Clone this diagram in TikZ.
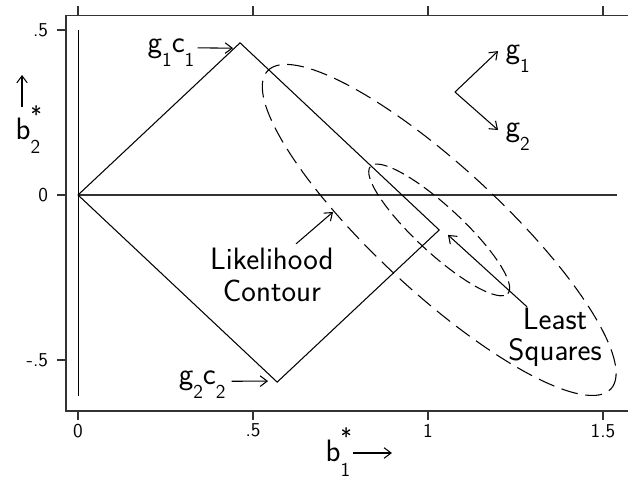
\documentclass[tikz,border=0pt]{standalone}
\usepackage{tikz}
\usetikzlibrary{arrows.meta}
\renewcommand{\familydefault}{\sfdefault}

\newcommand{\lowsub}[1]{\raisebox{-10pt}{\fontsize{14}{14}\selectfont #1}}
\newcommand{\starsub}[1]{\rlap{\raisebox{12pt}{\fontsize{17}{17}\selectfont *}}\lowsub{#1}}

\begin{document}
\begin{tikzpicture}[x=8.75cm, y=8.25cm, line width=0.75pt,
    >={Straight Barb[length=5pt,width=7.5pt]},
    axisline/.style={draw=black!80, line width=1.1pt},
    ticklab/.style={font=\fontsize{14}{14}\selectfont, inner sep=1pt},
    lab/.style={font=\fontsize{22}{23}\selectfont, inner sep=0pt, align=center},
    outerell/.style={dash pattern=on 12pt off 5.5pt},
    innerell/.style={dash pattern=on 9pt off 4pt}
  ]
  \useasboundingbox (-0.2229,0.5909) rectangle (1.5714,-0.8606);

  % frame and ticks
  \draw[axisline] (1.5714,0.5433) -- (-0.0351,0.5433) -- (-0.0351,-0.6545) -- (1.5714,-0.6545);
  \foreach \x/\t in {0/0, 0.5/.5, 1/1, 1.5/1.5} {
    \draw[axisline] (\x,0.5433) -- (\x,0.5733);
    \draw[axisline] (\x,-0.6545) -- (\x,-0.6818);
    \node[ticklab, anchor=north] (xt\t) at (\x,-0.688) {\t};
  }
  \foreach \y/\t in {0.5/.5, 0/0, -0.5/-.5} {
    \draw[axisline] (-0.0351,\y) -- (-0.06,\y);
    \node[ticklab, anchor=east] (yt\t) at (-0.08,\y) {\t};
  }

  % zero lines
  \coordinate (O) at (0,0);
  \draw[axisline] (O) -- (1.54,0);
  \draw[line width=0.55pt] (0,0.5) -- (0,-0.609);

  % constraint region
  \coordinate (T) at (0.463,0.461);
  \coordinate (B) at (0.569,-0.567);
  \coordinate (R) at (1.032,-0.106);
  \draw (O) -- (T) -- (R) -- (B) -- cycle;

  % least squares contours
  \draw[outerell, rotate around={-42.8:(R)}] (R) ellipse [x radius=5.85cm, y radius=1.565cm];
  \draw[innerell, rotate around={-42.8:(R)}] (R) ellipse [x radius=2.34cm, y radius=0.58cm];

  % axis labels
  \node[lab, anchor=base west] (b2) at (-0.18,0.167) {b\starsub{2}};
  \coordinate (b2tail) at (-0.16,0.2667);
  \coordinate (b2head) at (-0.16,0.3636);
  \draw[->] (b2tail) -- (b2head);
  \node[lab, anchor=base west] (b1) at (0.7057,-0.809) {b\starsub{1}};
  \coordinate (b1tail) at (0.7857,-0.7818);
  \coordinate (b1head) at (0.897,-0.7818);
  \draw[->] (b1tail) -- (b1head);

  % vertex labels
  \node[lab, anchor=base east] (g1c1) at (0.334,0.433) {g\lowsub{1}c\lowsub{1}};
  \coordinate (g1c1tip) at (0.443,0.445);
  \draw[->] ([xshift=2pt,yshift=3pt]g1c1.base east) -- (g1c1tip);
  \node[lab, anchor=base east] (g2c2) at (0.423,-0.573) {g\lowsub{2}c\lowsub{2}};
  \coordinate (g2c2tip) at (0.543,-0.564);
  \draw[->] ([xshift=4pt,yshift=2pt]g2c2.base east) -- (g2c2tip);

  % directions
  \coordinate (corner) at (1.077,0.312);
  \coordinate (g1tip) at (1.2,0.436);
  \coordinate (g2tip) at (1.2,0.197);
  \node[lab, anchor=base west] (g1) at (1.22,0.415) {g\lowsub{1}};
  \node[lab, anchor=base west] (g2) at (1.22,0.176) {g\lowsub{2}};
  \draw[->] (corner) -- (g1tip);
  \draw[->] (corner) -- (g2tip);

  % contour labels
  \node[lab] (lik) at (0.554,-0.242) {Likelihood\\Contour};
  \coordinate (liktip) at (0.7286,-0.0515);
  \draw[->] (0.623,-0.148) -- (liktip);
  \node[lab] (ls) at (1.363,-0.432) {Least\\[-1pt]Squares};
  \coordinate (lstip) at (1.057,-0.121);
  \draw[->] (1.283,-0.339) -- (lstip);
\end{tikzpicture}
\end{document}
